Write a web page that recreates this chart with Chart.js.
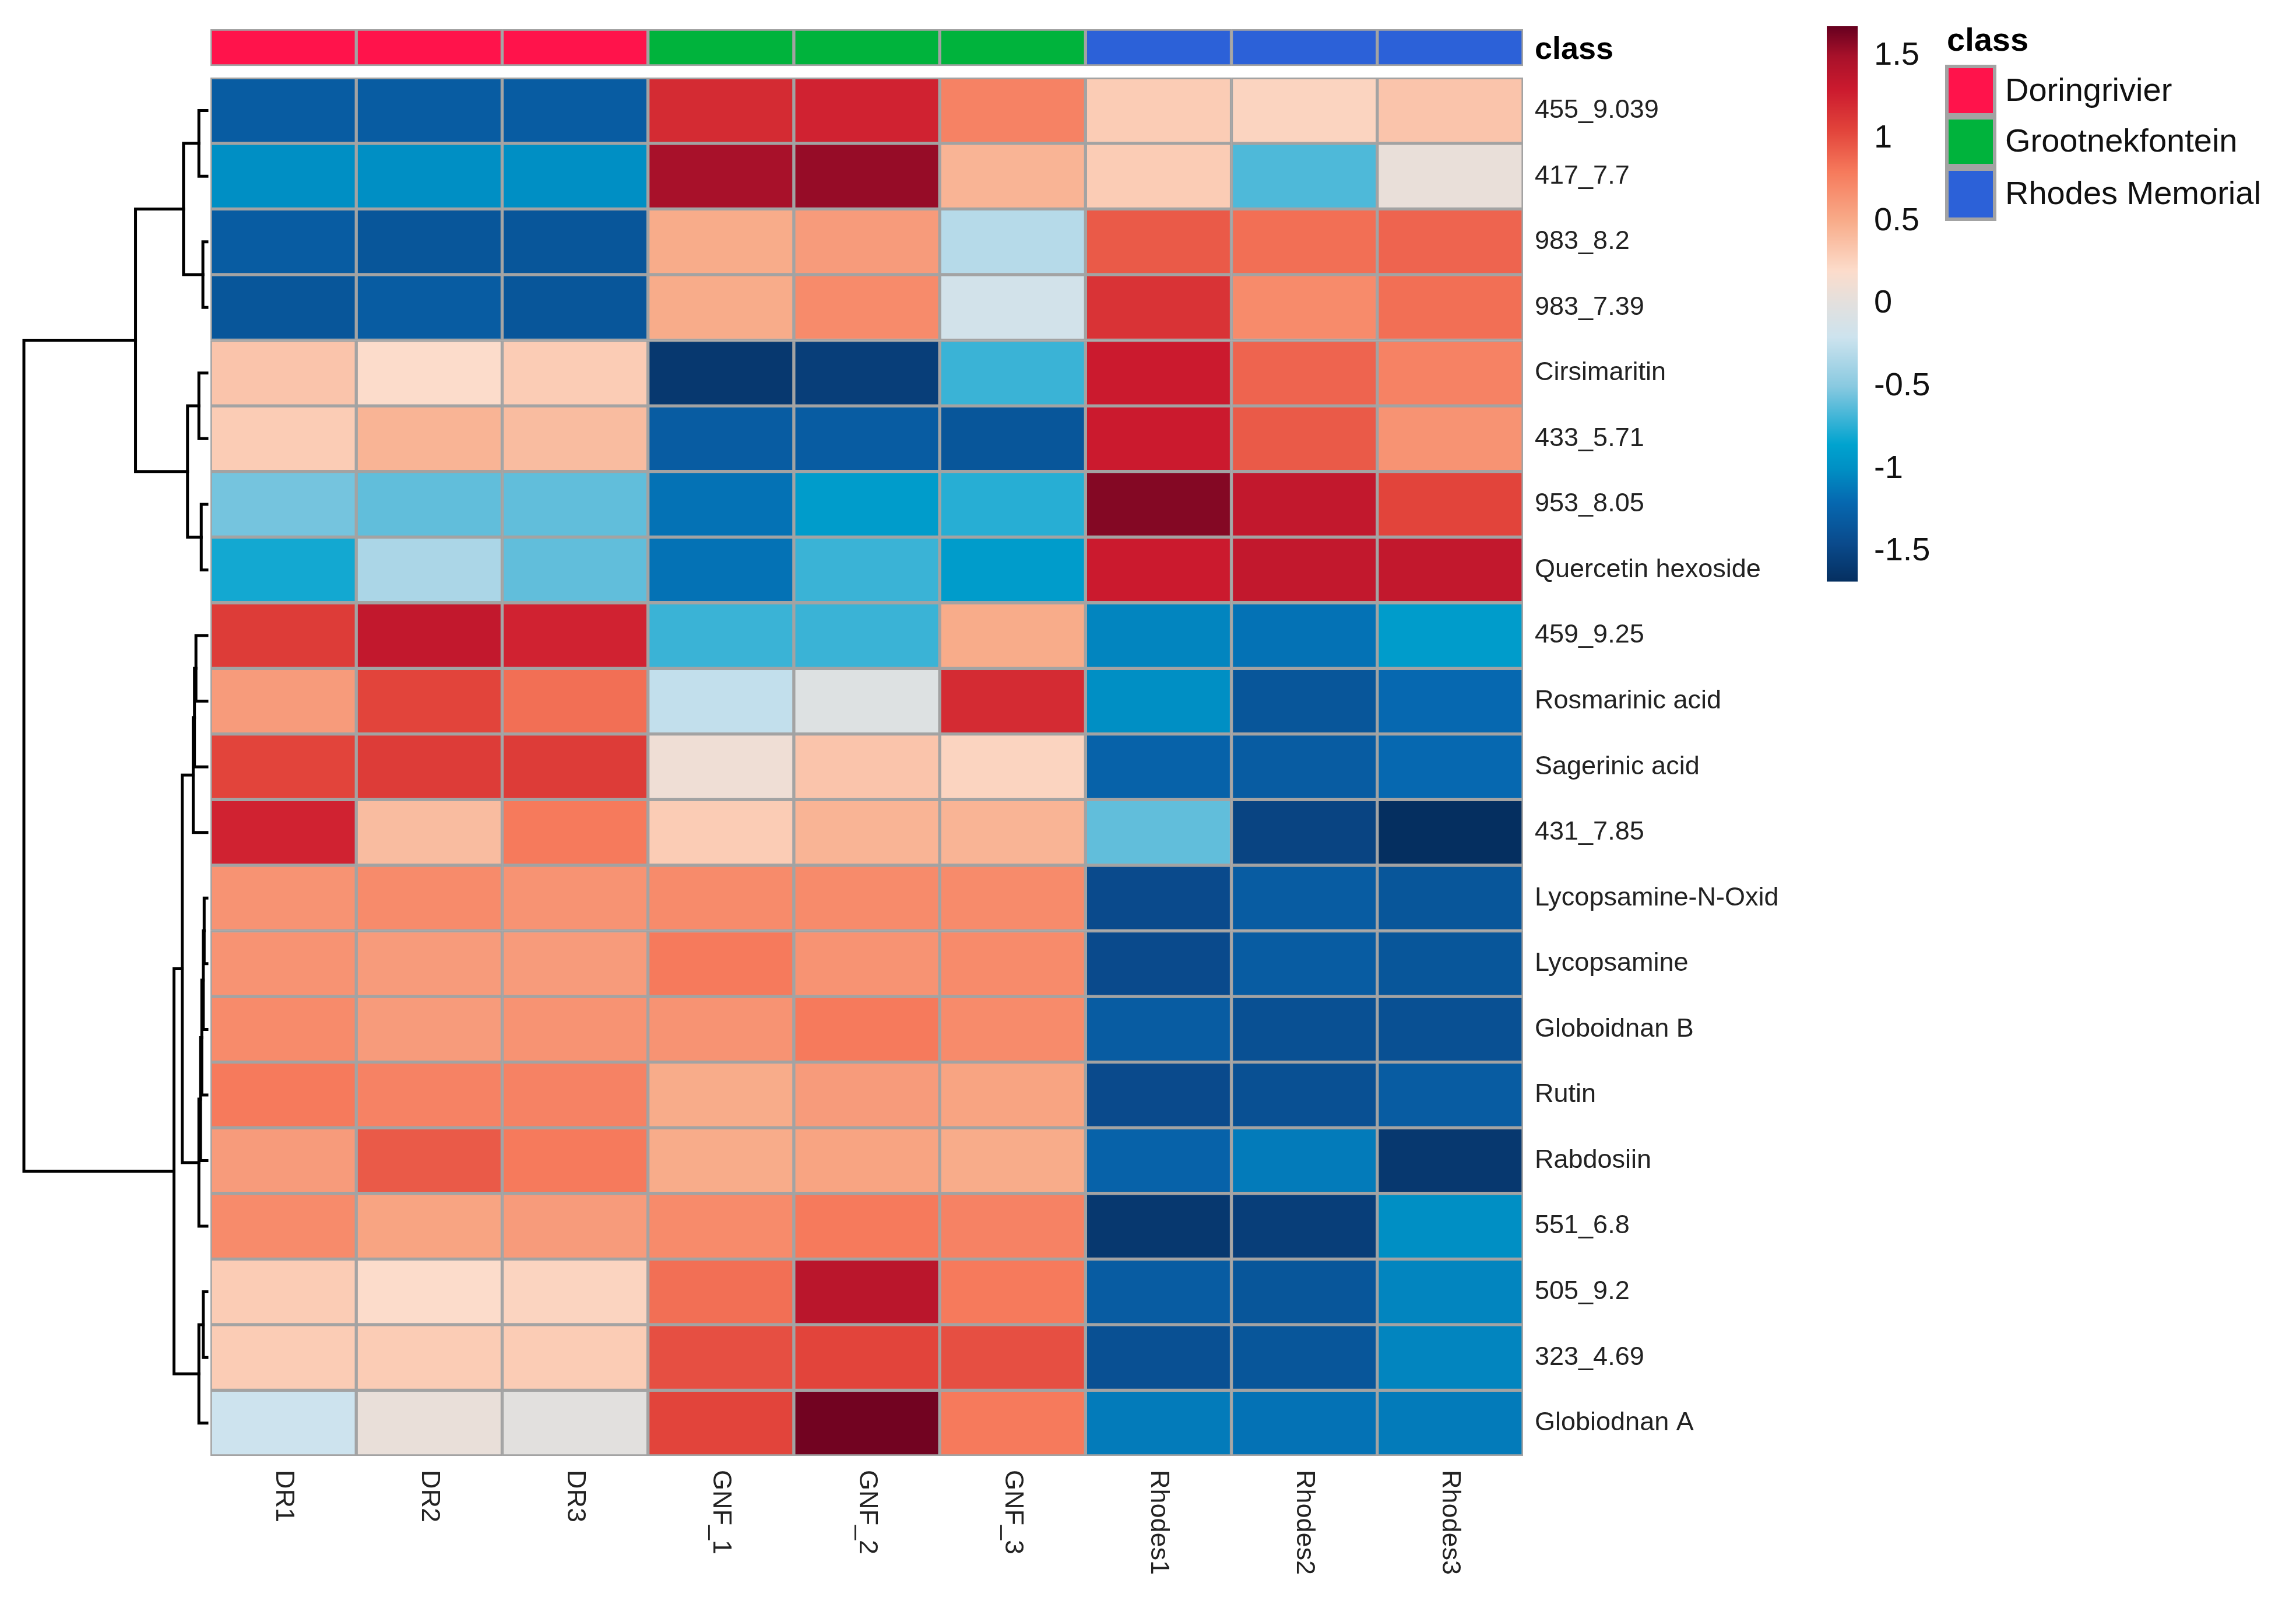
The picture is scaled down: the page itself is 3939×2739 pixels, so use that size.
<!DOCTYPE html>
<html>
<head>
<meta charset="utf-8">
<script src="https://cdn.jsdelivr.net/npm/chart.js@4.4.1/dist/chart.umd.min.js"></script>
<style>
  html, body { margin: 0; padding: 0; background: #fff; }
  #wrap { width: 3939px; height: 2739px; }
</style>
</head>
<body>
<div id="wrap"><canvas id="heat" width="3939" height="2739"></canvas></div>
<script>
// ─── Datos ───────────────────────────────────────────────────────────────────
const samples = ['DR1', 'DR2', 'DR3', 'GNF_1', 'GNF_2', 'GNF_3', 'Rhodes1', 'Rhodes2', 'Rhodes3'];
const sampleClass = ['Doringrivier', 'Doringrivier', 'Doringrivier', 'Grootnekfontein', 'Grootnekfontein', 'Grootnekfontein', 'Rhodes Memorial', 'Rhodes Memorial', 'Rhodes Memorial'];
const classNames = ['Doringrivier', 'Grootnekfontein', 'Rhodes Memorial'];
const classColors = ['#FF134B', '#00B33C', '#2C61D8'];
const features = ['455_9.039', '417_7.7', '983_8.2', '983_7.39', 'Cirsimaritin', '433_5.71', '953_8.05',
  'Quercetin hexoside', '459_9.25', 'Rosmarinic acid', 'Sagerinic acid', '431_7.85', 'Lycopsamine-N-Oxid',
  'Lycopsamine', 'Globoidnan B', 'Rutin', 'Rabdosiin', '551_6.8', '505_9.2', '323_4.69', 'Globiodnan A'];
const values = [
  [-1.3, -1.3, -1.3, 1.2, 1.25, 0.75, 0.3, 0.25, 0.35],
  [-1.0, -1.0, -1.0, 1.5, 1.55, 0.45, 0.3, -0.65, 0.05],
  [-1.3, -1.35, -1.35, 0.5, 0.6, -0.3, 0.95, 0.85, 0.9],
  [-1.35, -1.3, -1.35, 0.5, 0.7, -0.15, 1.15, 0.7, 0.85],
  [0.35, 0.2, 0.3, -1.6, -1.55, -0.7, 1.3, 0.9, 0.75],
  [0.3, 0.45, 0.4, -1.3, -1.3, -1.35, 1.3, 0.95, 0.65],
  [-0.55, -0.6, -0.6, -1.15, -0.9, -0.75, 1.6, 1.35, 1.05],
  [-0.8, -0.35, -0.6, -1.15, -0.7, -0.9, 1.3, 1.35, 1.35],
  [1.1, 1.35, 1.25, -0.7, -0.7, 0.5, -1.05, -1.15, -0.9],
  [0.6, 1.05, 0.85, -0.25, -0.05, 1.2, -1.0, -1.35, -1.2],
  [1.05, 1.1, 1.1, 0.1, 0.35, 0.25, -1.25, -1.3, -1.2],
  [1.25, 0.4, 0.8, 0.3, 0.45, 0.45, -0.6, -1.5, -1.75],
  [0.65, 0.7, 0.65, 0.7, 0.7, 0.7, -1.45, -1.3, -1.35],
  [0.65, 0.6, 0.6, 0.8, 0.65, 0.7, -1.45, -1.3, -1.35],
  [0.7, 0.6, 0.65, 0.65, 0.8, 0.7, -1.3, -1.4, -1.4],
  [0.8, 0.75, 0.75, 0.5, 0.6, 0.55, -1.45, -1.4, -1.3],
  [0.6, 0.95, 0.8, 0.5, 0.55, 0.5, -1.25, -1.1, -1.6],
  [0.7, 0.55, 0.6, 0.7, 0.8, 0.75, -1.6, -1.55, -1.0],
  [0.3, 0.2, 0.25, 0.85, 1.4, 0.8, -1.3, -1.35, -1.05],
  [0.3, 0.3, 0.3, 1.0, 1.05, 1.0, -1.4, -1.35, -1.05],
  [-0.2, 0.05, 0.0, 1.05, 1.65, 0.8, -1.1, -1.15, -1.1],
];
// Dendrograma de filas (estilo hclust: negativo = hoja, positivo = fusión)
const dendroMerge = [[-1, -2], [-3, -4], [1, 2], [-5, -6], [-7, -8], [4, 5], [3, 6],
  [-9, -10], [8, -11], [9, -12], [-13, -14], [11, -15], [12, -16], [13, -17], [14, -18],
  [10, 15], [-19, -20], [17, -21], [16, 18], [7, 19]];
const dendroHeight = [0.44, 0.22, 1.28, 0.44, 0.31, 1.06, 3.9, 0.6, 0.68, 0.75, 0.15, 0.2, 0.28,
  0.35, 0.44, 1.35, 0.2, 0.44, 1.8, 10];
const colorTicks = [1.5, 1, 0.5, 0, -0.5, -1, -1.5];
const colorRange = [-1.68, 1.68];

// ─── Paleta ──────────────────────────────────────────────────────────────────
const stops = [
  [-1.68, '#052F60'], [-1.45, '#0A4A8C'], [-1.2, '#0668B0'], [-1.0, '#008FC4'], [-0.85, '#00A3CF'],
  [-0.5, '#88C9E0'], [-0.2, '#CDE3EE'], [0, '#E2E0DE'], [0.2, '#FCDCCB'], [0.5, '#F8AC8A'],
  [0.8, '#F67A5C'], [1.05, '#E2443B'], [1.3, '#CB1A2E'], [1.5, '#A8112A'], [1.68, '#67001F'],
];
const hex = h => [1, 3, 5].map(i => parseInt(h.substr(i, 2), 16));
function colorOf(v) {
  if (v <= stops[0][0]) return stops[0][1];
  for (let i = 1; i < stops.length; i++) {
    if (v <= stops[i][0]) {
      const [a, ca] = stops[i - 1], [b, cb] = stops[i];
      const t = (v - a) / (b - a), A = hex(ca), B = hex(cb);
      return `rgb(${A.map((x, k) => Math.round(x + (B[k] - x) * t)).join(',')})`;
    }
  }
  return stops[stops.length - 1][1];
}

const FONT = '"Liberation Sans", Arial, sans-serif';
const GRID = '#A3A3A3';

// ─── Datasets ────────────────────────────────────────────────────────────────
const datasets = features.map((f, i) => ({
  label: f,
  data: samples.map(() => [i, i + 1]),
  backgroundColor: values[i].map(colorOf),
  borderColor: GRID, borderWidth: 3, borderSkipped: false,
  barPercentage: 1, categoryPercentage: 1, grouped: false,
}));
datasets.push({
  label: 'class',
  data: samples.map(() => [-0.74, -0.18]),
  backgroundColor: sampleClass.map(c => classColors[classNames.indexOf(c)]),
  borderColor: GRID, borderWidth: 3, borderSkipped: false,
  barPercentage: 1, categoryPercentage: 1, grouped: false,
});

// ─── Plugin: dendrograma, etiquetas, escala de color y leyenda ──────────────
const decorations = {
  id: 'decorations',
  afterDraw(chart) {
    const { ctx, chartArea: ca, scales: { x, y } } = chart;
    ctx.save();
    // dendrograma
    const hx = h => ca.left - 6 - h * 31.4;
    const pos = [];
    const node = k => k < 0 ? { y: y.getPixelForValue(-k - 1 + 0.5), h: 0 } : pos[k - 1];
    ctx.strokeStyle = '#000'; ctx.lineWidth = 5; ctx.lineCap = 'square';
    dendroMerge.forEach(([a, b], i) => {
      const A = node(a), B = node(b), h = dendroHeight[i];
      ctx.beginPath();
      ctx.moveTo(hx(A.h), A.y); ctx.lineTo(hx(h), A.y);
      ctx.lineTo(hx(h), B.y); ctx.lineTo(hx(B.h), B.y);
      ctx.stroke();
      pos.push({ y: (A.y + B.y) / 2, h });
    });
    // etiquetas de filas
    ctx.fillStyle = '#222'; ctx.font = `45px ${FONT}`; ctx.textBaseline = 'middle'; ctx.textAlign = 'left';
    features.forEach((f, i) => ctx.fillText(f, ca.right + 20, y.getPixelForValue(i + 0.5)));
    ctx.font = `bold 54px ${FONT}`; ctx.fillStyle = '#000';
    ctx.fillText('class', ca.right + 20, y.getPixelForValue(-0.42));
    // etiquetas de columnas (giradas)
    ctx.font = `45px ${FONT}`; ctx.fillStyle = '#222';
    samples.forEach((s, j) => {
      ctx.save();
      ctx.translate(x.getPixelForValue(j), ca.bottom + 24);
      ctx.rotate(Math.PI / 2);
      ctx.textAlign = 'left'; ctx.textBaseline = 'middle';
      ctx.fillText(s, 0, 0);
      ctx.restore();
    });
    // escala de color
    const cbL = 3134, cbW = 53, cbT = 45, cbB = 997;
    const vy = v => cbB - (v - colorRange[0]) / (colorRange[1] - colorRange[0]) * (cbB - cbT);
    for (let py = cbT; py < cbB; py++) {
      const v = colorRange[1] - (py - cbT) / (cbB - cbT) * (colorRange[1] - colorRange[0]);
      ctx.fillStyle = colorOf(v);
      ctx.fillRect(cbL, py, cbW, 1.5);
    }
    ctx.fillStyle = '#111'; ctx.font = `56px ${FONT}`; ctx.textAlign = 'left'; ctx.textBaseline = 'middle';
    colorTicks.forEach(t => ctx.fillText(String(t), cbL + cbW + 28, vy(t)));
    // leyenda de clases
    ctx.font = `bold 56px ${FONT}`; ctx.fillStyle = '#000';
    ctx.fillText('class', 3340, 72);
    const boxes = [[114, 197], [202, 284], [290, 376]];
    classNames.forEach((c, k) => {
      const [t, b] = boxes[k];
      ctx.fillStyle = classColors[k];
      ctx.fillRect(3340, t, 82, b - t);
      ctx.strokeStyle = GRID; ctx.lineWidth = 6;
      ctx.strokeRect(3340, t, 82, b - t);
      ctx.fillStyle = '#111'; ctx.font = `56px ${FONT}`;
      ctx.fillText(c, 3440, (t + b) / 2 + 2);
    });
    ctx.restore();
  },
};

new Chart(document.getElementById('heat').getContext('2d'), {
  type: 'bar',
  data: { labels: samples, datasets },
  options: {
    responsive: false, animation: false,
    layout: { padding: { left: 361, right: 1326, top: 50, bottom: 242 } },
    plugins: { legend: { display: false }, tooltip: { enabled: false } },
    scales: {
      x: { display: false, offset: true },
      y: { display: false, reverse: true, min: -0.74, max: 21 },
    },
  },
  plugins: [decorations],
});
</script>
</body>
</html>
